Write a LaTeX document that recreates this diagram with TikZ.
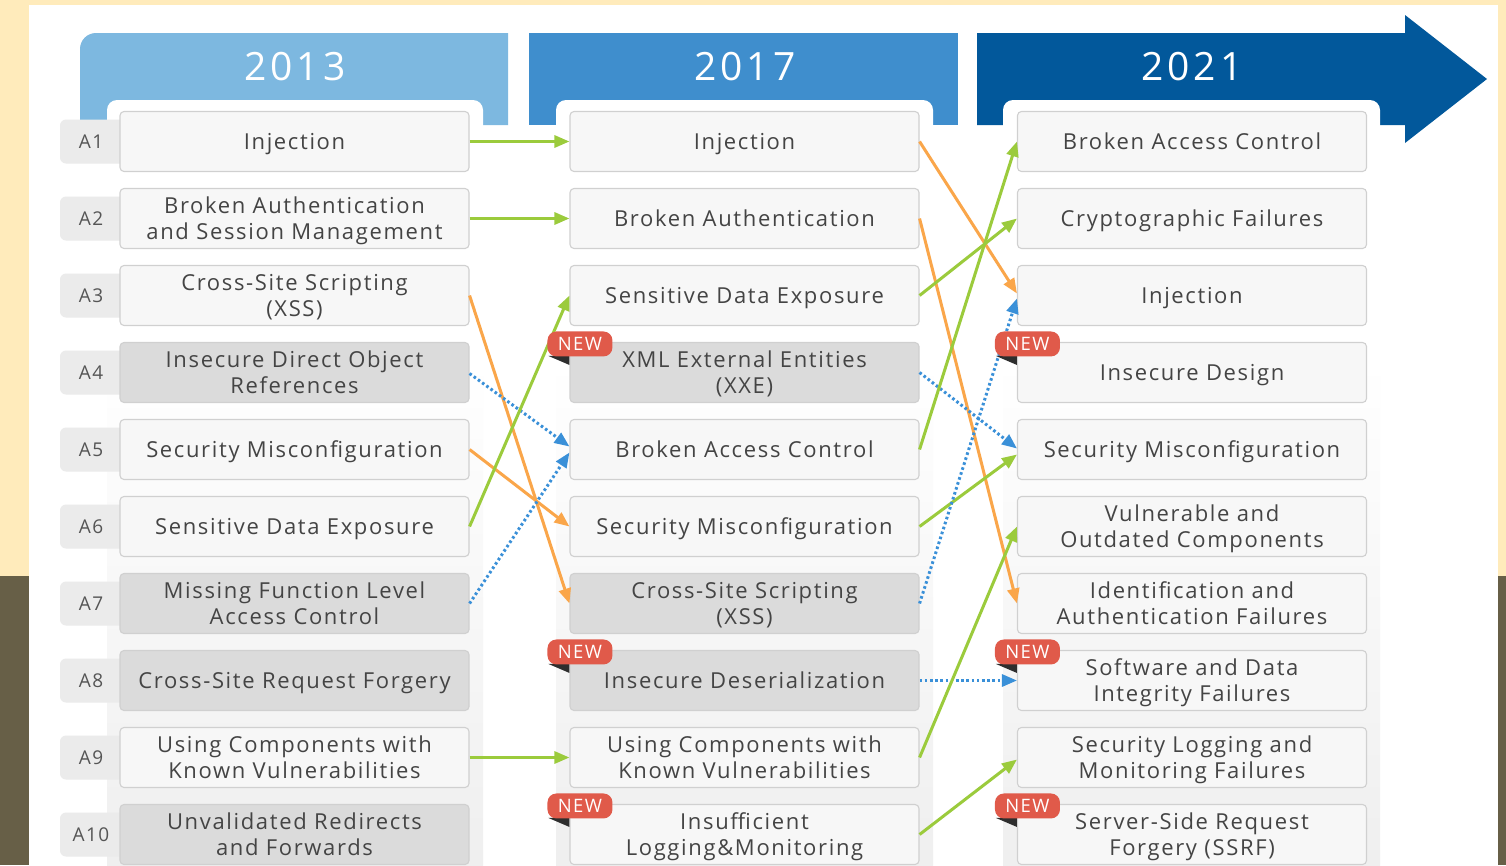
\documentclass[tikz,border=0pt]{standalone}
\usepackage{fontspec}
\usetikzlibrary{arrows.meta}
\newfontfamily\basefont{Open Sans}[LetterSpace=7.5]
\newfontfamily\yearfamily{Open Sans}[LetterSpace=10]
\newcommand\itemfont{\basefont\fontsize{22}{26}\selectfont}
\newcommand\numfont{\basefont\fontsize{19}{22}\selectfont}
\newcommand\tagfont{\basefont\fontsize{18.5}{20}\selectfont}
\newcommand\hdrfont{\yearfamily\fontsize{39}{44}\selectfont}

\definecolor{bgyellow}{HTML}{FFEBBB}
\definecolor{bgolive}{HTML}{675F47}
\definecolor{hdA}{HTML}{7DB8E0}
\definecolor{hdB}{HTML}{3F8ECD}
\definecolor{hdC}{HTML}{02589B}
\definecolor{colbg}{HTML}{EFEFEF}
\definecolor{boxlight}{HTML}{F7F7F7}
\definecolor{boxdark}{HTML}{DBDBDB}
\definecolor{boxline}{HTML}{D0D0D0}
\definecolor{tabgrey}{HTML}{EBEBEB}
\definecolor{txt}{HTML}{444444}
\definecolor{numgrey}{HTML}{555555}
\definecolor{grn}{HTML}{9BCB3C}
\definecolor{org}{HTML}{FAA64A}
\definecolor{blu}{HTML}{3A90D8}
\definecolor{newred}{HTML}{E05A4A}
\definecolor{foldgrey}{HTML}{2E2E2E}

\tikzset{
  itembox/.style={draw=boxline, line width=1.1pt, rounded corners=4pt, fill=boxlight,
    minimum width=349pt, minimum height=60pt, inner sep=0pt, align=center,
    text=txt, font=\itemfont, text depth=0pt},
  darkbox/.style={itembox, fill=boxdark},
  numtab/.style={fill=tabgrey, rounded corners=6pt, minimum width=70pt,
    minimum height=44pt, inner sep=0pt},
  numlbl/.style={text=numgrey, font=\numfont, inner sep=0pt, text depth=0pt},
  newtag/.style={fill=newred, rounded corners=9pt, minimum width=65pt,
    minimum height=25pt, inner sep=0pt, text=white, font=\tagfont, text depth=0pt},
  hdr/.style={text=white, font=\hdrfont, inner sep=0pt},
  link/.style={line width=3pt, -{Triangle[length=15pt,width=12pt]}},
  grnlink/.style={link, draw=grn},
  orglink/.style={link, draw=org},
  blulink/.style={link, draw=blu, dash pattern=on 2.6pt off 2.6pt},
}

\begin{document}
\begin{tikzpicture}[x=1pt,y=-1pt]
% page and panel
\useasboundingbox (0,0) rectangle (1506,865);
\fill[bgyellow] (0,0) rectangle (1506,576);
\fill[bgolive] (0,576) rectangle (1506,865);
\fill[white] (29,5) rectangle (1498,865);

% year banners
\fill[hdA] (80,125) -- (80,49) arc[start angle=180,end angle=270,radius=16] -- (508,33) -- (508,125) -- cycle;
\fill[hdB] (529,33) rectangle (958,125);
\fill[hdC] (977,33) -- (1405,33) -- (1405,15) -- (1487,79) -- (1405,143) -- (1405,125) -- (977,125) -- cycle;

% column backgrounds cut into the banners
\foreach \l/\r in {107/483, 556/933, 1003/1380}{
  \fill[white] (\l,865) -- (\l,110) arc[start angle=180,end angle=270,radius=10]
    -- (\r-10,100) arc[start angle=270,end angle=360,radius=10] -- (\r,865) -- cycle;
  \shade[top color=white, bottom color=colbg] (\l,360) rectangle (\r,865);
}

\node[hdr] (y13) at (295,67) {2013};
\node[hdr] (y17) at (745,67) {2017};
\node[hdr] (y21) at (1192,67) {2021};

% rank tabs
\node[numtab] (t1)  at (95,141.5) {};
\node[numtab] (t2)  at (95,218.5) {};
\node[numtab] (t3)  at (95,295.5) {};
\node[numtab] (t4)  at (95,372.5) {};
\node[numtab] (t5)  at (95,449.5) {};
\node[numtab] (t6)  at (95,526.5) {};
\node[numtab] (t7)  at (95,603.5) {};
\node[numtab] (t8)  at (95,680.5) {};
\node[numtab] (t9)  at (95,757.5) {};
\node[numtab] (t10) at (95,834.5) {};
\node[numlbl] (n1)  at (91,141.5) {A1};
\node[numlbl] (n2)  at (91,218.5) {A2};
\node[numlbl] (n3)  at (91,295.5) {A3};
\node[numlbl] (n4)  at (91,372.5) {A4};
\node[numlbl] (n5)  at (91,449.5) {A5};
\node[numlbl] (n6)  at (91,526.5) {A6};
\node[numlbl] (n7)  at (91,603.5) {A7};
\node[numlbl] (n8)  at (91,680.5) {A8};
\node[numlbl] (n9)  at (91,757.5) {A9};
\node[numlbl] (n10) at (91,834.5) {A10};

% 2013 list
\node[itembox] (a1)  at (294.5,141.5) {Injection};
\node[itembox] (a2)  at (294.5,218.5) {Broken Authentication\\and Session Management};
\node[itembox] (a3)  at (294.5,295.5) {Cross-Site Scripting\\(XSS)};
\node[darkbox] (a4)  at (294.5,372.5) {Insecure Direct Object\\References};
\node[itembox] (a5)  at (294.5,449.5) {Security Misconfiguration};
\node[itembox] (a6)  at (294.5,526.5) {Sensitive Data Exposure};
\node[darkbox] (a7)  at (294.5,603.5) {Missing Function Level\\Access Control};
\node[darkbox] (a8)  at (294.5,680.5) {Cross-Site Request Forgery};
\node[itembox] (a9)  at (294.5,757.5) {Using Components with\\Known Vulnerabilities};
\node[darkbox] (a10) at (294.5,834.5) {Unvalidated Redirects\\and Forwards};

% 2017 list
\node[itembox] (b1)  at (744.5,141.5) {Injection};
\node[itembox] (b2)  at (744.5,218.5) {Broken Authentication};
\node[itembox] (b3)  at (744.5,295.5) {Sensitive Data Exposure};
\node[darkbox] (b4)  at (744.5,372.5) {XML External Entities\\(XXE)};
\node[itembox] (b5)  at (744.5,449.5) {Broken Access Control};
\node[itembox] (b6)  at (744.5,526.5) {Security Misconfiguration};
\node[darkbox] (b7)  at (744.5,603.5) {Cross-Site Scripting\\(XSS)};
\node[darkbox] (b8)  at (744.5,680.5) {Insecure Deserialization};
\node[itembox] (b9)  at (744.5,757.5) {Using Components with\\Known Vulnerabilities};
\node[itembox] (b10) at (744.5,834.5) {Insufficient\\Logging\&Monitoring};

% 2021 list
\node[itembox] (c1)  at (1192,141.5) {Broken Access Control};
\node[itembox] (c2)  at (1192,218.5) {Cryptographic Failures};
\node[itembox] (c3)  at (1192,295.5) {Injection};
\node[itembox] (c4)  at (1192,372.5) {Insecure Design};
\node[itembox] (c5)  at (1192,449.5) {Security Misconfiguration};
\node[itembox] (c6)  at (1192,526.5) {Vulnerable and\\Outdated Components};
\node[itembox] (c7)  at (1192,603.5) {Identification and\\Authentication Failures};
\node[itembox] (c8)  at (1192,680.5) {Software and Data\\Integrity Failures};
\node[itembox] (c9)  at (1192,757.5) {Security Logging and\\Monitoring Failures};
\node[itembox] (c10) at (1192,834.5) {Server-Side Request\\Forgery (SSRF)};

% 2013 -> 2017
\draw[grnlink] (a1.east) -- (b1.west);
\draw[grnlink] (a2.east) -- (b2.west);
\draw[orglink] (a3.east) -- (b7.west);
\draw[blulink] ([yshift=-1pt]a4.east) -- ([yshift=3pt]b5.west);
\draw[orglink] (a5.east) -- (b6.west);
\draw[grnlink] (a6.east) -- (b3.west);
\draw[blulink] (a7.east) -- ([yshift=-3pt]b5.west);
\draw[grnlink] (a9.east) -- (b9.west);

% 2017 -> 2021
\draw[orglink] (b1.east) -- ([yshift=2pt]c3.west);
\draw[orglink] (b2.east) -- (c7.west);
\draw[grnlink] (b3.east) -- (c2.west);
\draw[blulink] (b4.east) -- ([yshift=1pt]c5.west);
\draw[grnlink] (b5.east) -- (c1.west);
\draw[grnlink] (b6.east) -- ([yshift=-5pt]c5.west);
\draw[blulink] (b7.east) -- ([yshift=-3pt]c3.west);
\draw[blulink] (b8.east) -- (c8.west);
\draw[grnlink] (b9.east) -- (c6.west);
\draw[grnlink] (b10.east) -- ([yshift=-2pt]c9.west);

% NEW ribbons: folded tail, then the tag
\foreach \bx in {b4,b8,b10,c4,c8,c10}{
  \fill[foldgrey] ([xshift=-21pt,yshift=-14pt]\bx.north west) -- ([yshift=-14pt]\bx.north west) -- ([yshift=-23pt]\bx.north west) -- cycle;
}
\node[newtag] (new1) at ([xshift=10.5pt,yshift=-2pt]b4.north west) {NEW};
\node[newtag] (new2) at ([xshift=10.5pt,yshift=-2pt]b8.north west) {NEW};
\node[newtag] (new3) at ([xshift=10.5pt,yshift=-2pt]b10.north west) {NEW};
\node[newtag] (new4) at ([xshift=10.5pt,yshift=-2pt]c4.north west) {NEW};
\node[newtag] (new5) at ([xshift=10.5pt,yshift=-2pt]c8.north west) {NEW};
\node[newtag] (new6) at ([xshift=10.5pt,yshift=-2pt]c10.north west) {NEW};
\end{tikzpicture}
\end{document}
